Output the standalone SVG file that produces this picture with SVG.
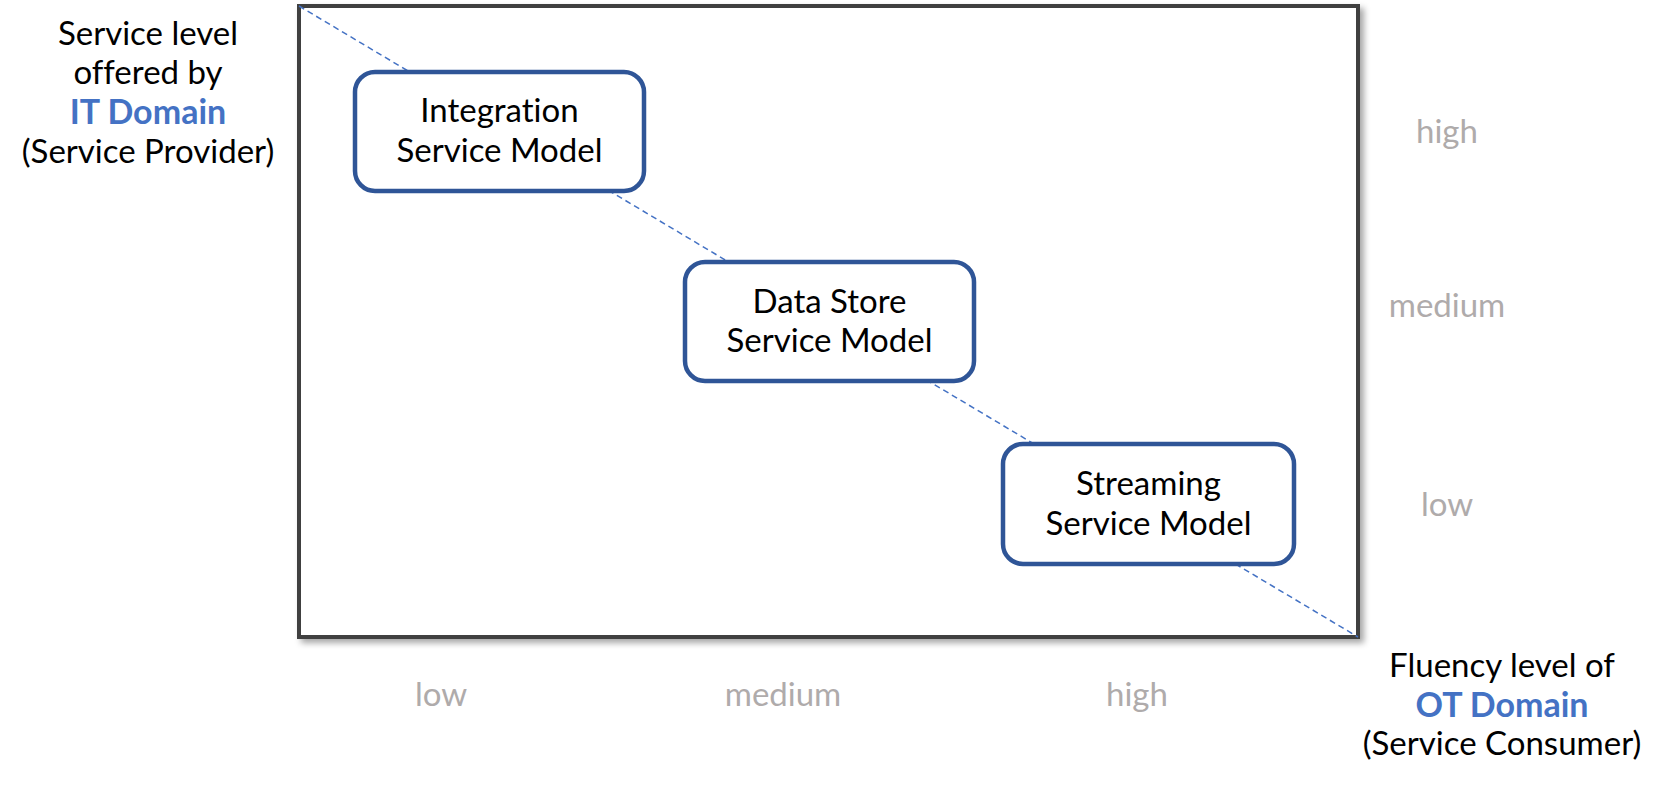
<svg xmlns="http://www.w3.org/2000/svg" width="1679" height="786" viewBox="0 0 1679 786">
<defs>
<filter id="shadow" x="-5%" y="-5%" width="110%" height="110%">
<feDropShadow dx="4" dy="4" stdDeviation="3" flood-color="#000" flood-opacity="0.35"/>
</filter>
<style>
text{font-family:Lato,"Open Sans","Liberation Sans",sans-serif;font-size:33px;text-anchor:middle;fill:#000;font-variant-ligatures:none}
.ax{fill:#AFABAB}
.blue{fill:#4472C4;font-weight:bold;font-size:34px}
.box{fill:#fff;stroke:#2F5597;stroke-width:4.5}
</style>
</defs>
<rect width="1679" height="786" fill="#fff"/>
<g id="frame">
<rect x="299" y="6" width="1059" height="631" fill="#fff" stroke="#404040" stroke-width="4" filter="url(#shadow)"/>
</g>
<g id="connectors">
<line x1="299" y1="6" x2="1358" y2="637" stroke="#4472C4" stroke-width="1.5" stroke-dasharray="6 4"/>
</g>
<g id="integration">
<rect class="box" x="355" y="72" width="289" height="119" rx="20"/>
<text x="499.5" y="122">Integration</text>
<text x="499.5" y="162">Service Model</text>
</g>
<g id="datastore">
<rect class="box" x="685" y="262" width="289" height="119" rx="20"/>
<text x="829.5" y="313">Data Store</text>
<text x="829.5" y="352">Service Model</text>
</g>
<g id="streaming">
<rect class="box" x="1003" y="444" width="291" height="120" rx="20"/>
<text x="1148.5" y="495">Streaming</text>
<text x="1148.5" y="535">Service Model</text>
</g>
<g id="y-axis-label">
<text x="148" y="45">Service level</text>
<text x="148" y="84">offered by</text>
<text x="148" y="124" class="blue">IT Domain</text>
<text x="148" y="163">(Service Provider)</text>
</g>
<g id="x-axis-label">
<text x="1502" y="677">Fluency level of</text>
<text x="1502" y="717" class="blue">OT Domain</text>
<text x="1502" y="755">(Service Consumer)</text>
</g>
<g id="y-ticks">
<text class="ax" x="1447" y="143">high</text>
<text class="ax" x="1447" y="317">medium</text>
<text class="ax" x="1447" y="516">low</text>
</g>
<g id="x-ticks">
<text class="ax" x="441" y="706">low</text>
<text class="ax" x="783" y="706">medium</text>
<text class="ax" x="1137" y="706">high</text>
</g>
</svg>
